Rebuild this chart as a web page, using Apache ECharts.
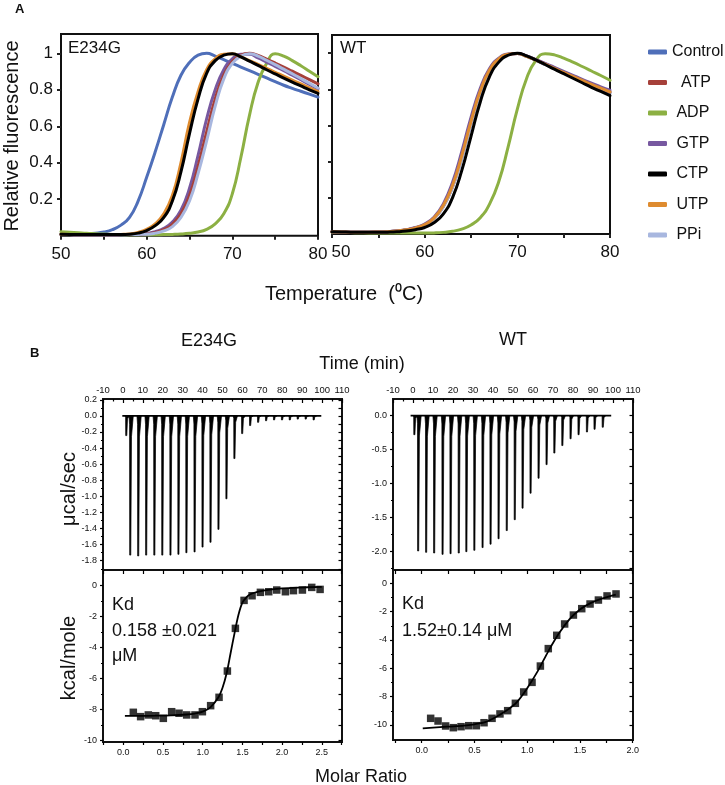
<!DOCTYPE html>
<html><head><meta charset="utf-8">
<script src="https://cdn.jsdelivr.net/npm/echarts@6/dist/echarts.min.js"></script>
<style>html,body{margin:0;padding:0;background:#fff}#c{width:725px;height:785px}</style>
</head><body><div id="c"></div>
<script>
// ---------------- DATA ----------------
const temps = [50,51,52,53,54,55,56,57,58,59,60,61,62,63,64,65,66,67,68,69,70,71,72,73,74,75,76,77,78,79,80];
const treatments = ['Control','ATP','ADP','GTP','CTP','UTP','PPi'];

// DSF, E234G
const e234gControl = [0.010,0.010,0.010,0.011,0.014,0.020,0.033,0.058,0.100,0.190,0.320,0.460,0.610,0.760,0.880,0.950,0.990,1.000,0.985,0.965,0.945,0.925,0.905,0.885,0.865,0.845,0.825,0.808,0.792,0.776,0.760];
const e234gATP     = [0.006,0.006,0.005,0.005,0.005,0.005,0.005,0.006,0.007,0.008,0.010,0.018,0.033,0.062,0.120,0.220,0.380,0.570,0.750,0.880,0.955,0.990,1.000,0.988,0.968,0.947,0.925,0.902,0.879,0.856,0.833];
const e234gADP     = [0.022,0.019,0.016,0.013,0.011,0.009,0.007,0.006,0.005,0.005,0.005,0.005,0.006,0.007,0.009,0.013,0.020,0.035,0.065,0.120,0.230,0.430,0.660,0.840,0.945,0.998,0.985,0.960,0.932,0.902,0.872];
const e234gGTP     = [0.006,0.006,0.005,0.005,0.005,0.005,0.005,0.006,0.006,0.007,0.012,0.022,0.040,0.075,0.140,0.260,0.440,0.640,0.800,0.910,0.970,0.995,0.995,0.975,0.952,0.928,0.905,0.880,0.855,0.830,0.805];
const e234gCTP     = [0.008,0.007,0.006,0.006,0.006,0.006,0.006,0.006,0.008,0.014,0.028,0.055,0.100,0.190,0.350,0.560,0.750,0.890,0.960,0.990,0.998,0.980,0.957,0.934,0.910,0.887,0.864,0.842,0.821,0.800,0.780];
const e234gUTP     = [0.008,0.007,0.006,0.006,0.006,0.006,0.006,0.007,0.010,0.018,0.035,0.065,0.120,0.220,0.400,0.620,0.790,0.910,0.970,0.995,0.998,0.980,0.960,0.940,0.918,0.896,0.875,0.853,0.832,0.811,0.790];
const e234gPPi     = [0.006,0.006,0.005,0.005,0.005,0.005,0.005,0.005,0.006,0.007,0.008,0.014,0.026,0.050,0.100,0.190,0.340,0.520,0.710,0.860,0.945,0.985,0.998,0.985,0.962,0.938,0.913,0.888,0.862,0.836,0.810];

// DSF, WT
const wtControl = [0.012,0.011,0.010,0.010,0.010,0.011,0.013,0.016,0.022,0.033,0.050,0.085,0.150,0.260,0.420,0.610,0.780,0.900,0.965,0.993,0.998,0.982,0.960,0.937,0.914,0.891,0.868,0.845,0.822,0.800,0.780];
const wtATP     = [0.012,0.011,0.010,0.010,0.010,0.011,0.013,0.016,0.022,0.033,0.050,0.086,0.152,0.262,0.425,0.615,0.785,0.903,0.966,0.993,0.998,0.983,0.962,0.940,0.917,0.894,0.872,0.850,0.828,0.806,0.785];
const wtADP     = [0.010,0.009,0.008,0.007,0.006,0.006,0.005,0.005,0.005,0.005,0.005,0.006,0.009,0.015,0.027,0.050,0.090,0.165,0.290,0.480,0.690,0.860,0.960,0.997,0.990,0.972,0.950,0.926,0.901,0.876,0.850];
const wtGTP     = [0.012,0.011,0.010,0.010,0.010,0.011,0.013,0.017,0.024,0.036,0.055,0.093,0.165,0.285,0.455,0.645,0.805,0.915,0.972,0.995,0.998,0.984,0.964,0.943,0.921,0.899,0.877,0.855,0.834,0.813,0.795];
const wtCTP     = [0.012,0.011,0.010,0.009,0.009,0.009,0.010,0.012,0.016,0.024,0.036,0.062,0.110,0.200,0.350,0.540,0.730,0.870,0.950,0.988,0.999,0.985,0.962,0.937,0.911,0.886,0.861,0.836,0.811,0.788,0.765];
const wtUTP     = [0.012,0.011,0.010,0.010,0.010,0.011,0.013,0.016,0.023,0.034,0.052,0.088,0.156,0.268,0.432,0.622,0.790,0.906,0.968,0.994,0.998,0.982,0.961,0.939,0.916,0.893,0.871,0.849,0.827,0.806,0.785];
const wtPPi     = [0.012,0.011,0.010,0.010,0.010,0.011,0.013,0.016,0.022,0.033,0.050,0.085,0.150,0.258,0.418,0.608,0.778,0.899,0.964,0.992,0.998,0.983,0.962,0.940,0.918,0.895,0.873,0.851,0.829,0.808,0.787];

// ITC raw injections (time in min, peak in µcal/sec)
const e234gInjTime = [1.4,3.4,7.4,11.4,15.5,19.5,23.6,27.6,31.6,35.7,39.7,43.7,47.7,51.7,55.7,59.6,63.6,67.6,71.6,75.6,79.6,83.5,87.5,91.5,95.5];
const e234gInjPeak = [-0.245,-1.73,-1.74,-1.73,-1.73,-1.73,-1.73,-1.72,-1.70,-1.69,-1.63,-1.57,-1.41,-1.03,-0.53,-0.22,-0.12,-0.08,-0.06,-0.05,-0.05,-0.05,-0.04,-0.04,-0.05];
const e234gBaseline = [-0.3, 99.6];
const wtInjTime = [0.4,2.3,6.3,10.3,14.5,18.5,22.6,26.4,30.4,34.5,38.5,42.5,46.6,50.6,54.5,58.5,62.5,66.5,70.4,74.4,78.5,82.5,86.7,90.5,94.6];
const wtInjPeak = [-0.28,-1.99,-2.01,-2.02,-2.04,-2.03,-2.02,-2.00,-1.98,-1.94,-1.89,-1.81,-1.69,-1.53,-1.36,-1.14,-0.92,-0.72,-0.55,-0.44,-0.34,-0.28,-0.24,-0.20,-0.17];
const wtBaseline = [-1.2, 99.1];

// ITC integrated heats (molar ratio, kcal/mole)
const e234gRatio = [0.126,0.218,0.315,0.408,0.504,0.609,0.702,0.798,0.903,0.996,1.100,1.206,1.311,1.412,1.521,1.622,1.727,1.832,1.933,2.042,2.143,2.256,2.374,2.479];
const e234gHeat  = [-8.19,-8.47,-8.36,-8.41,-8.58,-8.15,-8.25,-8.36,-8.36,-8.15,-7.76,-7.22,-5.52,-2.76,-0.95,-0.65,-0.43,-0.39,-0.28,-0.39,-0.32,-0.28,-0.11,-0.24];
const e234gFitX  = [0.02,0.2,0.4,0.6,0.8,0.9,1.0,1.1,1.2,1.25,1.3,1.35,1.4,1.45,1.5,1.55,1.6,1.7,1.8,2.0,2.2,2.5];
const e234gFitY  = [-8.42,-8.42,-8.41,-8.39,-8.33,-8.27,-8.15,-7.85,-7.2,-6.6,-5.7,-4.4,-3.1,-1.9,-1.1,-0.75,-0.55,-0.38,-0.28,-0.17,-0.12,-0.08];
const wtRatio = [0.085,0.155,0.227,0.300,0.373,0.446,0.518,0.591,0.667,0.742,0.815,0.888,0.967,1.046,1.125,1.200,1.280,1.355,1.438,1.517,1.596,1.675,1.757,1.842];
const wtHeat  = [-9.53,-9.72,-10.07,-10.19,-10.12,-10.05,-10.05,-9.84,-9.53,-9.22,-8.99,-8.47,-7.67,-6.99,-5.84,-4.61,-3.67,-2.87,-2.24,-1.79,-1.46,-1.18,-0.89,-0.75];
const wtFitX  = [0.01,0.24,0.4,0.5,0.6,0.7,0.8,0.9,1.0,1.1,1.2,1.3,1.4,1.5,1.6,1.7,1.84];
const wtFitY  = [-10.24,-10.12,-10.05,-9.95,-9.8,-9.45,-9.0,-8.4,-7.4,-6.2,-4.8,-3.55,-2.55,-1.85,-1.4,-1.1,-0.8];

// Tick labels
const dsfXLabels = [50,60,70,80];
const dsfYLabels = [0.2,0.4,0.6,0.8,1];
const e234gRawYTicks = [0.2,0.0,-0.2,-0.4,-0.6,-0.8,-1.0,-1.2,-1.4,-1.6,-1.8];
const e234gRawYMinor = [0.1,-0.1,-0.3,-0.5,-0.7,-0.9,-1.1,-1.3,-1.5,-1.7,-1.9];
const wtRawYTicks = [0.0,-0.5,-1.0,-1.5,-2.0];
const wtRawYMinor = [0.25,-0.25,-0.75,-1.25,-1.75,-2.25];
const intYTicks = [0,-2,-4,-6,-8,-10];
const intYMinor = [-1,-3,-5,-7,-9];
const e234gRatioTicks = [0.0,0.5,1.0,1.5,2.0,2.5];
const e234gRatioMinor = [-0.25,0.25,0.75,1.25,1.75,2.25,2.75];
const wtRatioTicks = [0.0,0.5,1.0,1.5,2.0];
const wtRatioMinor = [-0.25,0.25,0.75,1.25,1.75];

// ---------------- STYLE ----------------
const FONT = "'Liberation Sans', Arial, sans-serif";
const colors = {Control:'#4f6fb9', ATP:'#a6403a', ADP:'#8cb043', GTP:'#7758a0', CTP:'#000000', UTP:'#de8b2f', PPi:'#a8b7df'};
const legendText = {Control:'Control', ATP:'  ATP', ADP:' ADP', GTP:' GTP', CTP:' CTP', UTP:' UTP', PPi:' PPi'};
const e234gSets = {Control:e234gControl, ATP:e234gATP, ADP:e234gADP, GTP:e234gGTP, CTP:e234gCTP, UTP:e234gUTP, PPi:e234gPPi};
const wtSets = {Control:wtControl, ATP:wtATP, ADP:wtADP, GTP:wtGTP, CTP:wtCTP, UTP:wtUTP, PPi:wtPPi};
const orderE = ['Control','ADP','GTP','ATP','PPi','UTP','CTP'];
const orderW = ['Control','ADP','ATP','PPi','GTP','UTP','CTP'];

const grids = [
  {left:61, top:34, width:257, height:201.7},   // A E234G
  {left:332, top:35, width:278, height:199},    // A WT
  {left:103, top:399, width:239, height:171},   // B E234G raw
  {left:103, top:570, width:239, height:172},   // B E234G int
  {left:393, top:399, width:240, height:171},   // B WT raw
  {left:393, top:570, width:240, height:170}    // B WT int
].map(g => Object.assign({show:true, borderColor:'#111', borderWidth:2, backgroundColor:'rgba(0,0,0,0)'}, g));

const xAxes = [], yAxes = [];
const addX = c => (xAxes.push(c), xAxes.length - 1);
const addY = c => (yAxes.push(c), yAxes.length - 1);
const tickLS = {color:'#000', width:1.2};
const noLine = {show:false, onZero:false};
const fmt = d => v => (Math.abs(v) < 1e-9 ? (0).toFixed(d) : v.toFixed(d));

// Panel A axes
function dsfAxes(gi, showYLabels, ymax, shiftFirst) {
  const xi = addX({gridIndex:gi, type:'value', min:50, max:80, interval:5,
    axisLine:noLine, splitLine:{show:false},
    axisTick:{show:true, length:4, lineStyle:{color:'#222', width:2}},
    axisLabel:{customValues:dsfXLabels, fontSize:17, fontFamily:FONT, color:'#111', margin:10,
      formatter: v => (shiftFirst && v === 50 ? '{p|50}' : String(v)),
      rich:{p:{fontSize:17, fontFamily:FONT, color:'#111', padding:[0,0,0,18]}}}});
  const yi = addY({gridIndex:gi, type:'value', min:0, max:ymax,
    axisLine:noLine, splitLine:{show:false},
    axisTick:{show:true, length:4, customValues:dsfYLabels, lineStyle:{color:'#222', width:2}},
    axisLabel:{show:showYLabels, customValues:dsfYLabels, fontSize:17, fontFamily:FONT, color:'#111', margin:8,
      formatter: v => (v === 1 ? '1' : v.toFixed(1))}});
  return [xi, yi];
}
const [axE, ayE] = dsfAxes(0, true, 1.106, false);
const [axW, ayW] = dsfAxes(1, false, 1.1, true);

// ITC axes
function timeAxis(gi) {
  return addX({gridIndex:gi, type:'value', position:'top', min:-10, max:110, interval:10,
    axisLine:noLine, splitLine:{show:false}, minorSplitLine:{show:false},
    axisTick:{show:true, inside:true, length:4, lineStyle:tickLS},
    minorTick:{show:true, splitNumber:2, length:2.5, lineStyle:tickLS},
    axisLabel:{fontSize:9.5, fontFamily:FONT, color:'#111', margin:4}});
}
function ratioAxes(gi, min, max, ticks, minor) {
  const main = addX({gridIndex:gi, type:'value', position:'bottom', min, max,
    axisLine:noLine, splitLine:{show:false},
    axisTick:{show:true, length:3, customValues:ticks.concat(minor), lineStyle:tickLS},
    axisLabel:{customValues:ticks, formatter:fmt(1), fontSize:9, fontFamily:FONT, color:'#111', margin:6}});
  addX({gridIndex:gi, type:'value', position:'top', min, max,
    axisLine:noLine, splitLine:{show:false},
    axisTick:{show:true, inside:true, length:4, customValues:ticks.concat(minor), lineStyle:tickLS},
    axisLabel:{show:false}});
  return main;
}
function itcYAxes(gi, min, max, ticks, minor, digits) {
  const main = addY({gridIndex:gi, type:'value', position:'left', min, max,
    axisLine:noLine, splitLine:{show:false},
    axisTick:{show:true, length:3, customValues:ticks, lineStyle:tickLS},
    axisLabel:{customValues:ticks, formatter:fmt(digits), fontSize:9, fontFamily:FONT, color:'#111', margin:6}});
  addY({gridIndex:gi, type:'value', position:'left', min, max,
    axisLine:noLine, splitLine:{show:false},
    axisTick:{show:true, length:2, customValues:minor, lineStyle:tickLS},
    axisLabel:{show:false}});
  addY({gridIndex:gi, type:'value', position:'right', min, max,
    axisLine:noLine, splitLine:{show:false},
    axisTick:{show:true, inside:true, length:3.5, customValues:ticks.concat(minor), lineStyle:tickLS},
    axisLabel:{show:false}});
  return main;
}
const axRawE = timeAxis(2), ayRawE = itcYAxes(2, -1.915, 0.21, e234gRawYTicks, e234gRawYMinor, 1);
const axIntE = ratioAxes(3, -0.256, 2.755, e234gRatioTicks, e234gRatioMinor), ayIntE = itcYAxes(3, -10.11, 1.015, intYTicks, intYMinor, 0);
const axRawW = timeAxis(4), ayRawW = itcYAxes(4, -2.27, 0.245, wtRawYTicks, wtRawYMinor, 1);
const axIntW = ratioAxes(5, -0.272, 2.003, wtRatioTicks, wtRatioMinor), ayIntW = itcYAxes(5, -11.06, 0.94, intYTicks, intYMinor, 0);

// ---------------- SERIES ----------------
const series = [];
function dsf(sets, order, xi, yi) {
  order.forEach(name => series.push({
    type:'line', name, xAxisIndex:xi, yAxisIndex:yi,
    data: temps.map((t, i) => [t, sets[name][i]]),
    smooth:0.5, showSymbol:false, symbol:'none', silent:true,
    lineStyle:{width:3, color:colors[name], cap:'round', join:'round'}, itemStyle:{color:colors[name]}
  }));
}
dsf(e234gSets, orderE, axE, ayE);
dsf(wtSets, orderW, axW, ayW);

function raw(times, peaks, base, xi, yi) {
  series.push({type:'line', xAxisIndex:xi, yAxisIndex:yi, data:[[base[0],0],[base[1],0]],
    showSymbol:false, symbol:'none', silent:true, lineStyle:{width:1.6, color:'#000'}});
  series.push({type:'custom', xAxisIndex:xi, yAxisIndex:yi, clip:true, silent:true,
    data: times.map((t, i) => [t, peaks[i]]),
    renderItem: (params, api) => {
      const t = api.value(0), p = api.value(1);
      const pts = [api.coord([t - 0.35, 0]), api.coord([t - 0.05, p * 0.06]), api.coord([t, p]),
                   api.coord([t + 0.55, p]), api.coord([t + 0.9, p * 0.15]), api.coord([t + 1.8, 0])];
      return {type:'polygon', shape:{points:pts}, style:{fill:'#000', stroke:'#000', lineWidth:0.7}};
    }});
}
raw(e234gInjTime, e234gInjPeak, e234gBaseline, axRawE, ayRawE);
raw(wtInjTime, wtInjPeak, wtBaseline, axRawW, ayRawW);

function integ(rx, hy, fx, fy, xi, yi) {
  series.push({type:'line', xAxisIndex:xi, yAxisIndex:yi, data: fx.map((x, i) => [x, fy[i]]),
    smooth:0.3, showSymbol:false, symbol:'none', silent:true, lineStyle:{width:1.8, color:'#000'}});
  series.push({type:'scatter', xAxisIndex:xi, yAxisIndex:yi, data: rx.map((x, i) => [x, hy[i]]),
    symbol:'rect', symbolSize:7.5, silent:true, itemStyle:{color:'#000'}});
}
integ(e234gRatio, e234gHeat, e234gFitX, e234gFitY, axIntE, ayIntE);
integ(wtRatio, wtHeat, wtFitX, wtFitY, axIntW, ayIntW);

// ---------------- TEXT ----------------
function txt(text, x, y, size, opts) {
  opts = opts || {};
  const align = opts.align || 'center';
  return {type:'text', x, y, rotation: opts.rot || 0, silent:true, z:100,
    style:{text, fill:'#111', font:(opts.bold ? 'bold ' : '') + size + 'px ' + FONT,
      align, verticalAlign:'middle', textAlign:align, textVerticalAlign:'middle'}};
}
const graphics = [
  txt('A', 15, 9, 13, {bold:true, align:'left'}),
  txt('Relative fluorescence', 12, 136, 20, {rot:Math.PI/2}),
  txt('E234G', 68, 48.5, 17, {align:'left'}),
  txt('WT', 340, 48.5, 17, {align:'left'}),
  txt('Temperature  (\u2070C)', 344, 294, 20),
  txt('B', 30, 353, 13, {bold:true, align:'left'}),
  txt('E234G', 209, 341, 18),
  txt('WT', 513, 340, 18),
  txt('Time (min)', 362, 364, 18),
  txt('\u03bccal/sec', 69, 489, 20, {rot:Math.PI/2}),
  txt('kcal/mole', 69, 658, 20, {rot:Math.PI/2}),
  txt('Molar Ratio', 361, 777, 18),
  txt('Kd', 112, 605, 18, {align:'left'}),
  txt('0.158 \u00b10.021', 112, 631, 18, {align:'left'}),
  txt('\u03bcM', 112, 656, 18, {align:'left'}),
  txt('Kd', 402, 604, 18, {align:'left'}),
  txt('1.52\u00b10.14 \u03bcM', 402, 631, 18, {align:'left'})
];

const chart = echarts.init(document.getElementById('c'), null, {renderer:'canvas'});
chart.setOption({
  animation:false,
  backgroundColor:'#fff',
  grid: grids,
  xAxis: xAxes,
  yAxis: yAxes,
  legend: {orient:'vertical', left:643, top:39, itemWidth:19, itemHeight:5, itemGap:14.5,
    icon:'roundRect', data:treatments, selectedMode:false,
    formatter: n => legendText[n],
    textStyle:{fontSize:16, fontFamily:FONT, color:'#111'}},
  series,
  graphic: {elements: graphics}
});
</script></body></html>
